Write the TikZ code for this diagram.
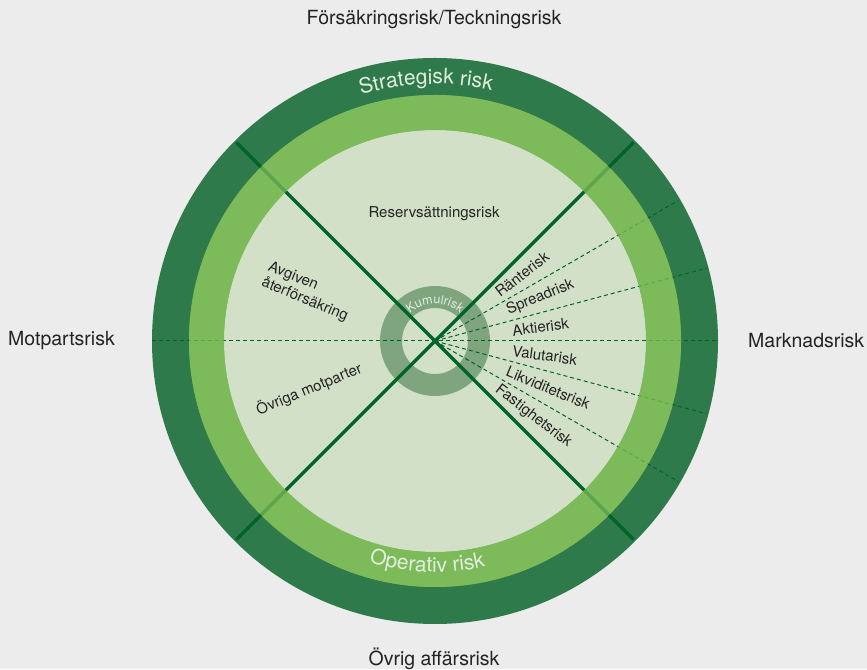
\documentclass[tikz,border=0pt]{standalone}
\usepackage{fontspec}
\setmainfont{TeX Gyre Heros}
\usetikzlibrary{calc,decorations.text}

\definecolor{bggray}{RGB}{236,236,236}
\definecolor{outergreen}{RGB}{47,122,75}
\definecolor{ringgreen}{RGB}{125,186,90}
\definecolor{palegreen}{RGB}{211,224,200}
\definecolor{kumulgreen}{RGB}{127,165,127}
\definecolor{linegreen}{RGB}{0,100,40}
\definecolor{labelgray}{RGB}{35,35,35}
\definecolor{ringtext}{RGB}{228,238,224}

\begin{document}
\begin{tikzpicture}[x=1pt, y=1pt]

\tikzstyle{outer_label} = [text=labelgray, font=\fontsize{19.5}{19.5}\selectfont, inner sep=0pt]
\tikzstyle{sector_label} = [text=labelgray, font=\fontsize{15}{17}\selectfont, inner sep=0pt]
\tikzstyle{split_line} = [draw=linegreen, line width=3.5pt]
\tikzstyle{sub_line} = [draw=linegreen, line width=1pt, dash pattern=on 4pt off 3pt]

% background
\fill[bggray] (0,0) rectangle (867,669);
\useasboundingbox (0,0) rectangle (867,669);

\coordinate (c) at (435,328);

% rings
\fill[outergreen] (c) circle (283);
\fill[ringgreen] (c) circle (246);
\fill[palegreen] (c) circle (211);
\fill[kumulgreen, even odd rule] (c) circle (55) (c) circle (33);

% line ends
\coordinate (q1) at ($(c)+(45:281)$);
\coordinate (q2) at ($(c)+(135:281)$);
\coordinate (q3) at ($(c)+(225:281)$);
\coordinate (q4) at ($(c)+(-45:281)$);
\coordinate (w_end) at ($(c)+(180:283)$);
\coordinate (e_end) at ($(c)+(0:283)$);
\coordinate (m1) at ($(c)+(30:281)$);
\coordinate (m2) at ($(c)+(15:281)$);
\coordinate (m3) at ($(c)+(-15:281)$);
\coordinate (m4) at ($(c)+(-30:281)$);

% sector lines
\draw[split_line] (q1) -- (q3);
\draw[split_line] (q2) -- (q4);
\draw[sub_line] (w_end) -- (e_end);
\draw[sub_line] (c) -- (m1);
\draw[sub_line] (c) -- (m2);
\draw[sub_line] (c) -- (m3);
\draw[sub_line] (c) -- (m4);

% middle ring over the lines
\fill[ringgreen, fill opacity=0.75, even odd rule] (c) circle (246) (c) circle (211);

% ring texts
\path[decorate, decoration={text along path, text align=center, text color=ringtext,
  text={|\fontsize{21}{21}\selectfont|Strategisk risk}}] ($(c)+(162:257)$) arc (162:22:257);
\path[decorate, decoration={text along path, text align=center, text color=ringtext,
  text={|\fontsize{21}{21}\selectfont|Operativ risk}}] ($(c)+(203:231)$) arc (203:333:231);
\path[decorate, decoration={text along path, text align=center, text color=ringtext,
  text={|\fontsize{12.5}{12.5}\selectfont|Kumulrisk}}] ($(c)+(165:37)$) arc (165:15:37);

% sector labels
\node[sector_label] (reserv) at (434,455) {Reservsättningsrisk};
\node[sector_label, rotate=-22.5, align=left] (avgiven) at (308,377) {Avgiven\\återförsäkring};
\node[sector_label, rotate=22.5] (ovriga) at (309,280) {Övriga motparter};

\node[sector_label, anchor=west, rotate=37.5] (ranta) at ($(c)+(37.5:78)$) {Ränterisk};
\node[sector_label, anchor=west, rotate=22.5] (spread) at ($(c)+(22.5:78)$) {Spreadrisk};
\node[sector_label, anchor=west, rotate=7.5] (aktie) at ($(c)+(7.5:78)$) {Aktierisk};
\node[sector_label, anchor=west, rotate=-7.5] (valuta) at ($(c)+(-7.5:78)$) {Valutarisk};
\node[sector_label, anchor=west, rotate=-22.5] (likvid) at ($(c)+(-22.5:78)$) {Likviditetsrisk};
\node[sector_label, anchor=west, rotate=-37.5] (fastighet) at ($(c)+(-37.5:78)$) {Fastighetsrisk};

% outer labels
\node[outer_label] (forsakring) at (434,649) {Försäkringsrisk/Teckningsrisk};
\node[outer_label, anchor=west] (motpart) at (8,328) {Motpartsrisk};
\node[outer_label, anchor=west] (marknad) at (748,328) {Marknadsrisk};
\node[outer_label] (ovrig) at (434,10) {Övrig affärsrisk};

\end{tikzpicture}
\end{document}
